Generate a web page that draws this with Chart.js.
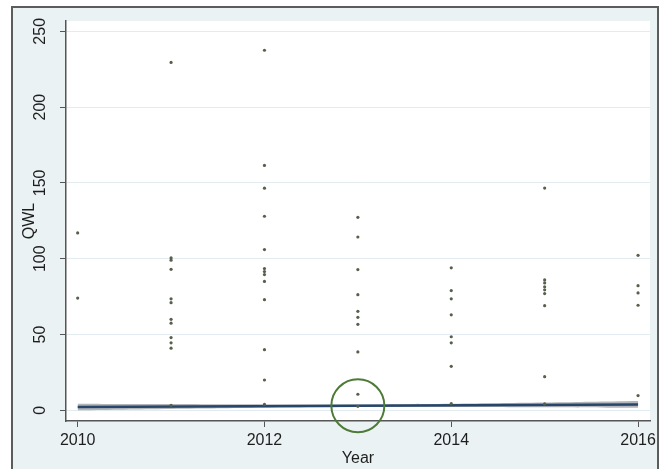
<!DOCTYPE html>
<html>
<head>
<meta charset="utf-8">
<title>QWL by Year</title>
<script src="https://cdn.jsdelivr.net/npm/chart.js@4/dist/chart.umd.min.js"></script>
<style>
  html, body { margin: 0; padding: 0; background: #ffffff; }
  #wrap { width: 667px; height: 469px; }
</style>
</head>
<body>
<div id="wrap"><canvas id="chart" width="667" height="469"></canvas></div>
<script>
// Observed QWL values, one list per year
const qwl2010 = [117, 74];
const qwl2011 = [229.5, 100.5, 99, 93, 73.5, 71, 60, 57.5, 48, 44.5, 41, 3.3];
const qwl2012 = [237.5, 161.5, 146.5, 128, 106, 93.5, 91.5, 89.5, 85, 73, 40, 20, 3.9];
const qwl2013 = [127.3, 114.3, 92.8, 76.3, 65.3, 61.3, 56.7, 38.5, 10.6, 2.6];
const qwl2014 = [94, 79, 73.5, 63, 48.5, 44.5, 29, 4.4];
const qwl2015 = [146.6, 86, 84, 81.5, 79.5, 77, 69, 22.2, 4.2];
const qwl2016 = [102.2, 82.2, 77.4, 69.3, 9.7];
const years = [2010, 2011, 2012, 2013, 2014, 2015, 2016];
const qwlByYear = [qwl2010, qwl2011, qwl2012, qwl2013, qwl2014, qwl2015, qwl2016];

// Linear fit and its confidence band
const fitYears = [2010, 2016];
const fitValues = [2.2, 3.9];
const bandYears = [2010, 2011, 2012, 2013, 2014, 2015, 2016];
const bandLower = [0.0, 0.9, 1.7, 2.2, 2.2, 2.0, 1.6];
const bandUpper = [4.4, 4.1, 3.9, 3.9, 4.4, 5.2, 6.2];

// Highlighted observation
const markYear = [2013];
const markValue = [3.0];

// Axis ticks
const xTicks = [2010, 2012, 2014, 2016];
const yTicks = [0, 50, 100, 150, 200, 250];

const FONT = "'Liberation Sans', Arial, Helvetica, sans-serif";
Chart.defaults.font.family = FONT;
Chart.defaults.font.size = 16;
Chart.defaults.color = '#1e1e1e';

const scatterPoints = [];
years.forEach((yr, i) => qwlByYear[i].forEach(v => scatterPoints.push({ x: yr, y: v })));

const fitPoints = fitYears.map((x, i) => ({ x, y: fitValues[i] }));
const upperPoints = bandYears.map((x, i) => ({ x, y: bandUpper[i] }));
const lowerPoints = bandYears.map((x, i) => ({ x, y: bandLower[i] }));
const markPoints = markYear.map((x, i) => ({ x, y: markValue[i] }));

// Graph region (light blue with a dark frame) and white plot region
const backdrop = {
  id: 'backdrop',
  beforeDraw(chart) {
    const { ctx, chartArea: a } = chart;
    ctx.save();
    ctx.fillStyle = '#ffffff';
    ctx.fillRect(0, 0, chart.width, chart.height);
    ctx.fillStyle = '#eaf2f3';
    ctx.fillRect(12, 7, 647, chart.height);
    ctx.strokeStyle = '#5c5c5c';
    ctx.lineWidth = 2;
    ctx.beginPath();
    ctx.moveTo(12, chart.height + 2);
    ctx.lineTo(12, 7);
    ctx.lineTo(658, 7);
    ctx.lineTo(658, chart.height + 2);
    ctx.stroke();
    ctx.fillStyle = '#ffffff';
    ctx.fillRect(a.left, a.top, a.right - a.left, a.bottom - a.top);
    ctx.restore();
  }
};

// Vertical y tick labels, reading bottom to top
const yLabels = {
  id: 'yLabels',
  afterDraw(chart) {
    const { ctx } = chart;
    const ys = chart.scales.y;
    ctx.save();
    ctx.fillStyle = '#1e1e1e';
    ctx.font = '16px ' + FONT;
    ctx.textAlign = 'center';
    ctx.textBaseline = 'middle';
    ys.ticks.forEach(t => {
      const py = ys.getPixelForValue(t.value);
      ctx.save();
      ctx.translate(41, py);
      ctx.rotate(-Math.PI / 2);
      ctx.fillText(String(t.value), 0, 0);
      ctx.restore();
    });
    ctx.restore();
  }
};

new Chart(document.getElementById('chart'), {
  type: 'scatter',
  data: {
    datasets: [
      {
        type: 'line',
        data: upperPoints,
        fill: '+1',
        backgroundColor: 'rgba(140,142,146,0.65)',
        borderWidth: 0,
        pointRadius: 0,
        tension: 0.4,
        order: 4
      },
      {
        type: 'line',
        data: lowerPoints,
        fill: false,
        borderWidth: 0,
        pointRadius: 0,
        tension: 0.4,
        order: 4
      },
      {
        type: 'line',
        data: fitPoints,
        borderColor: '#27466b',
        borderWidth: 2.5,
        pointRadius: 0,
        fill: false,
        order: 3
      },
      {
        data: scatterPoints,
        pointRadius: 1.6,
        backgroundColor: '#56604d',
        borderWidth: 0,
        order: 2
      },
      {
        data: markPoints,
        pointRadius: 26.5,
        pointStyle: 'circle',
        backgroundColor: 'rgba(0,0,0,0)',
        borderColor: '#4d7a37',
        borderWidth: 2,
        clip: false,
        order: 1
      }
    ]
  },
  options: {
    responsive: false,
    animation: false,
    devicePixelRatio: 1,
    events: [],
    layout: { autoPadding: false, padding: { top: 21, right: 17, left: 0, bottom: 0 } },
    plugins: { legend: { display: false }, tooltip: { enabled: false } },
    scales: {
      x: {
        type: 'linear',
        min: 2009.875,
        max: 2016.128,
        afterBuildTicks: s => { s.ticks = xTicks.map(v => ({ value: v })); },
        afterFit: s => { s.height = 48; s.paddingLeft = 0; s.paddingRight = 0; },
        ticks: {
          font: { size: 16 },
          color: '#1e1e1e',
          padding: 4,
          maxRotation: 0,
          minRotation: 0,
          callback: v => String(v)
        },
        grid: { color: 'rgba(0,0,0,0)', tickColor: '#555555', tickLength: 6, drawTicks: true },
        border: { color: '#555555', width: 1.5 },
        title: { display: true, text: 'Year', font: { size: 16 }, color: '#1e1e1e', padding: { top: 0, bottom: 1 } }
      },
      y: {
        min: -7.06,
        max: 256.8,
        afterBuildTicks: s => { s.ticks = yTicks.map(v => ({ value: v })); },
        afterFit: s => { s.width = 66; s.paddingTop = 0; s.paddingBottom = 0; },
        ticks: { display: false },
        grid: { color: '#e2ebef', lineWidth: 1, tickColor: '#555555', tickLength: 6, drawTicks: true },
        border: { color: '#555555', width: 1.5 },
        title: { display: true, text: 'QWL', font: { size: 16 }, color: '#1e1e1e', padding: { top: 20, bottom: 0 } }
      }
    }
  },
  plugins: [backdrop, yLabels]
});
</script>
</body>
</html>
